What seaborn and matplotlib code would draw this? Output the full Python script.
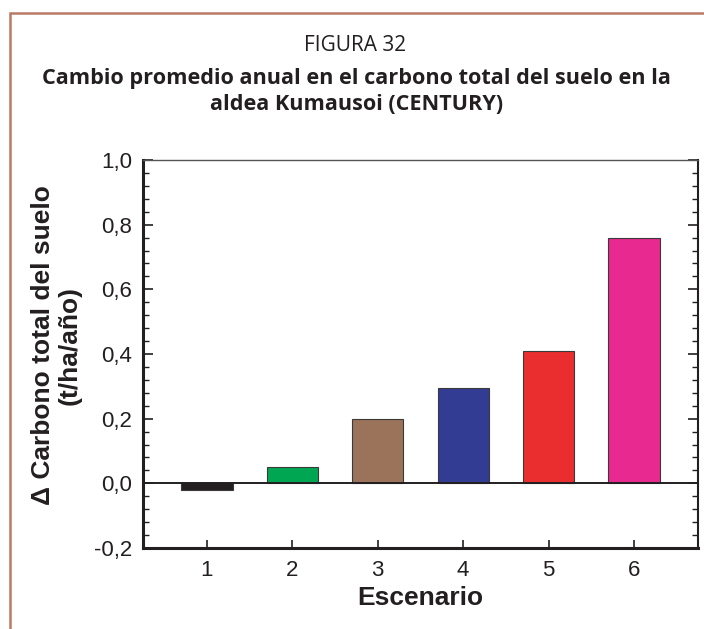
import matplotlib
matplotlib.use("Agg")
import matplotlib.pyplot as plt
import matplotlib.patches as mpatches
from matplotlib.ticker import MultipleLocator, FuncFormatter
import seaborn as sns
import pandas as pd

escenarios = ["1", "2", "3", "4", "5", "6"]
cambio_carbono = [-0.02, 0.05, 0.20, 0.295, 0.41, 0.76]
colores = ["#231f20", "#00a651", "#9b735a", "#333c93", "#ea2d2e", "#e8298f"]

df = pd.DataFrame({"Escenario": escenarios, "Cambio": cambio_carbono})

sns.set_theme(style="white")
plt.rcParams["font.family"] = ["Liberation Sans", "DejaVu Sans"]

fig = plt.figure(figsize=(7.04, 6.29), dpi=100)
ax = fig.add_axes([0.203, 0.1288, 0.7885, 0.6168])

sns.barplot(data=df, x="Escenario", y="Cambio", hue="Escenario", palette=colores,
            saturation=1, legend=False, width=0.6, edgecolor="#3a3a3a",
            linewidth=0.8, ax=ax)

ax.axhline(0, color="#231f20", lw=1.4, zorder=3)
ax.set_xlim(-0.75, 5.75)
ax.set_ylim(-0.2, 1.0)
ax.yaxis.set_major_locator(MultipleLocator(0.2))
ax.yaxis.set_minor_locator(MultipleLocator(0.04))
ax.yaxis.set_major_formatter(FuncFormatter(lambda v, p: f"{v:.1f}".replace(".", ",")))

ax.tick_params(axis="y", which="both", direction="in", left=True, right=True,
               labelsize=16, colors="#231f20", pad=8)
ax.tick_params(axis="y", which="major", length=7, width=1.2)
ax.tick_params(axis="y", which="minor", length=4, width=1)
ax.tick_params(axis="x", which="major", direction="in", bottom=True, length=6,
               width=1.2, labelsize=16, colors="#231f20", pad=9)

for side, lw, col in [("left", 2.2, "#231f20"), ("bottom", 2.2, "#231f20"),
                      ("right", 1.5, "#231f20"), ("top", 1.0, "#555555")]:
    ax.spines[side].set_linewidth(lw)
    ax.spines[side].set_color(col)

ax.set_xlabel("Escenario", fontsize=19, fontweight="bold", color="#231f20", labelpad=3)
ax.set_ylabel("")

fig.text(0.08, 0.451, "Δ Carbono total del suelo\n(t/ha/año)", rotation=90,
         ha="center", va="center", fontsize=19, fontweight="bold", color="#231f20",
         linespacing=1.15)

fig.text(0.505, 0.927, "FIGURA 32", ha="center", va="center", fontsize=15,
         family=["Open Sans", "DejaVu Sans"], color="#231f20")
fig.text(0.506, 0.855, "Cambio promedio anual en el carbono total del suelo en la\naldea Kumausoi (CENTURY)",
         ha="center", va="center", fontsize=15.6, fontweight="bold",
         family=["Open Sans", "DejaVu Sans"], color="#231f20", linespacing=1.3)

# marco exterior
fig.patches.append(mpatches.Rectangle((0.0145, -0.05), 1.2, 1.03, transform=fig.transFigure,
                                      fill=False, edgecolor="#b97a66", lw=1.8))

fig.savefig("out.png", dpi=100)
